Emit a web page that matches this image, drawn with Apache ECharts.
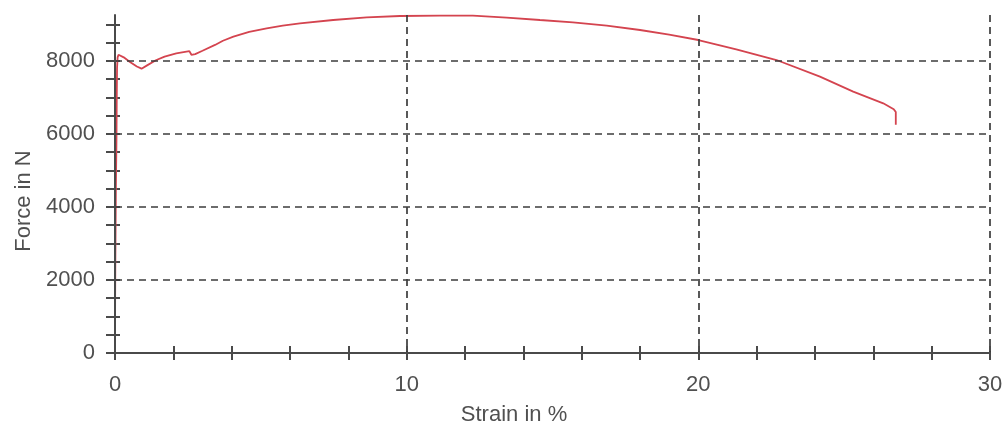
<!DOCTYPE html>
<html>
<head>
<meta charset="utf-8">
<script src="https://cdn.jsdelivr.net/npm/echarts@6/dist/echarts.min.js"></script>
<style>html,body{margin:0;padding:0;background:#fff;}#c{width:1008px;height:425px;}</style>
</head>
<body>
<div id="c"></div>
<script>
// Strain in % and force in N
const strain = [0, 0.005, 0.01, 0.03, 0.05, 0.06, 0.07, 0.09, 0.12, 0.3, 0.5, 0.75, 0.91, 1.1, 1.4, 1.7, 2.1, 2.4, 2.55, 2.62, 2.75, 3.0, 3.43, 3.7, 4.06, 4.6, 5.2, 5.75, 6.34, 7.48, 8.63, 9.77, 11.14, 12.27, 13.43, 14.57, 15.7, 16.86, 18.0, 19.0, 20.0, 21.3, 22.68, 24.17, 25.31, 26.34, 26.7, 26.77, 26.77];
const force  = [0, 1500, 2300, 4500, 5800, 7000, 7800, 8100, 8170, 8100, 7980, 7850, 7790, 7880, 8020, 8120, 8210, 8250, 8270, 8170, 8190, 8280, 8440, 8555, 8667, 8795, 8895, 8970, 9030, 9123, 9196, 9233, 9245, 9241, 9190, 9123, 9059, 8968, 8849, 8720, 8575, 8320, 8027, 7570, 7159, 6841, 6680, 6600, 6250];
const xTickLabels = [0, 10, 20, 30];
const yTickLabels = [0, 2000, 4000, 6000, 8000];

const FONT = "'Liberation Sans', Arial, sans-serif";
const TXT = '#505050';
const AX = '#4a4a4a';
const GRIDC = '#3c3c3c';
const yMax = 9260;
const pxPerN = 338 / yMax;
const tickGridTop = 353 - 9000 * pxPerN;

const chart = echarts.init(document.getElementById('c'));
chart.setOption({
  animation: false,
  backgroundColor: '#ffffff',
  grid: [
    {left: 115, right: 18, top: 15, bottom: 72, outerBoundsMode: 'none', containLabel: false},
    {left: 115, right: 18, top: tickGridTop, bottom: 72, outerBoundsMode: 'none', containLabel: false}
  ],
  xAxis: [
    {
      gridIndex: 0, type: 'value', min: xTickLabels[0], max: xTickLabels[xTickLabels.length-1], interval: 10, z: 5,
      name: 'Strain in %', nameLocation: 'middle', nameGap: 51,
      nameTextStyle: {fontFamily: FONT, fontSize: 22, color: TXT, padding: [0, 77, 0, 0]},
      axisLine: {show: true, onZero: false, lineStyle: {color: AX, width: 2}},
      axisTick: {show: false},
      axisLabel: {fontFamily: FONT, fontSize: 22, color: TXT, margin: 21,
        formatter: v => xTickLabels.indexOf(v) >= 0 ? String(v) : ''},
      splitLine: {show: true, lineStyle: {color: GRIDC, width: 1.7, type: [7, 5]}}
    },
    {
      gridIndex: 1, type: 'value', min: 0, max: 30, interval: 2, position: 'bottom',
      axisLine: {show: false}, axisLabel: {show: false}, splitLine: {show: false},
      axisTick: {show: true, inside: false, length: 7, lineStyle: {color: AX, width: 2}}
    },
    {
      gridIndex: 1, type: 'value', min: 0, max: 30, interval: 2, position: 'bottom',
      axisLine: {show: false}, axisLabel: {show: false}, splitLine: {show: false},
      axisTick: {show: true, inside: true, length: 7, lineStyle: {color: AX, width: 2}}
    }
  ],
  yAxis: [
    {
      gridIndex: 0, type: 'value', min: 0, max: yMax, interval: 2000, z: 5,
      name: 'Force in N', nameLocation: 'middle', nameGap: 80,
      nameTextStyle: {fontFamily: FONT, fontSize: 22, color: TXT, padding: [0, 34, 0, 0]},
      axisLine: {show: true, onZero: false, lineStyle: {color: AX, width: 2}},
      axisTick: {show: false},
      axisLabel: {fontFamily: FONT, fontSize: 22, color: TXT, margin: 20, showMaxLabel: false,
        formatter: v => yTickLabels.indexOf(v) >= 0 ? String(v) : ''},
      splitLine: {show: true, showMaxLine: false, lineStyle: {color: GRIDC, width: 1.7, type: [7, 5]}}
    },
    {
      gridIndex: 1, type: 'value', min: 0, max: 9000, interval: 500, position: 'left',
      axisLine: {show: false}, axisLabel: {show: false}, splitLine: {show: false},
      axisTick: {show: true, inside: false, length: 9, lineStyle: {color: AX, width: 2}}
    },
    {
      gridIndex: 1, type: 'value', min: 0, max: 9000, interval: 500, position: 'left',
      axisLine: {show: false}, axisLabel: {show: false}, splitLine: {show: false},
      axisTick: {show: true, inside: true, length: 5, lineStyle: {color: AX, width: 2}}
    }
  ],
  series: [{
    type: 'line', xAxisIndex: 0, yAxisIndex: 0, z: 2,
    data: strain.map((s, i) => [s, force[i]]),
    showSymbol: false, symbol: 'none',
    lineStyle: {color: '#d4444f', width: 1.8},
    clip: false
  }]
});
</script>
</body>
</html>
